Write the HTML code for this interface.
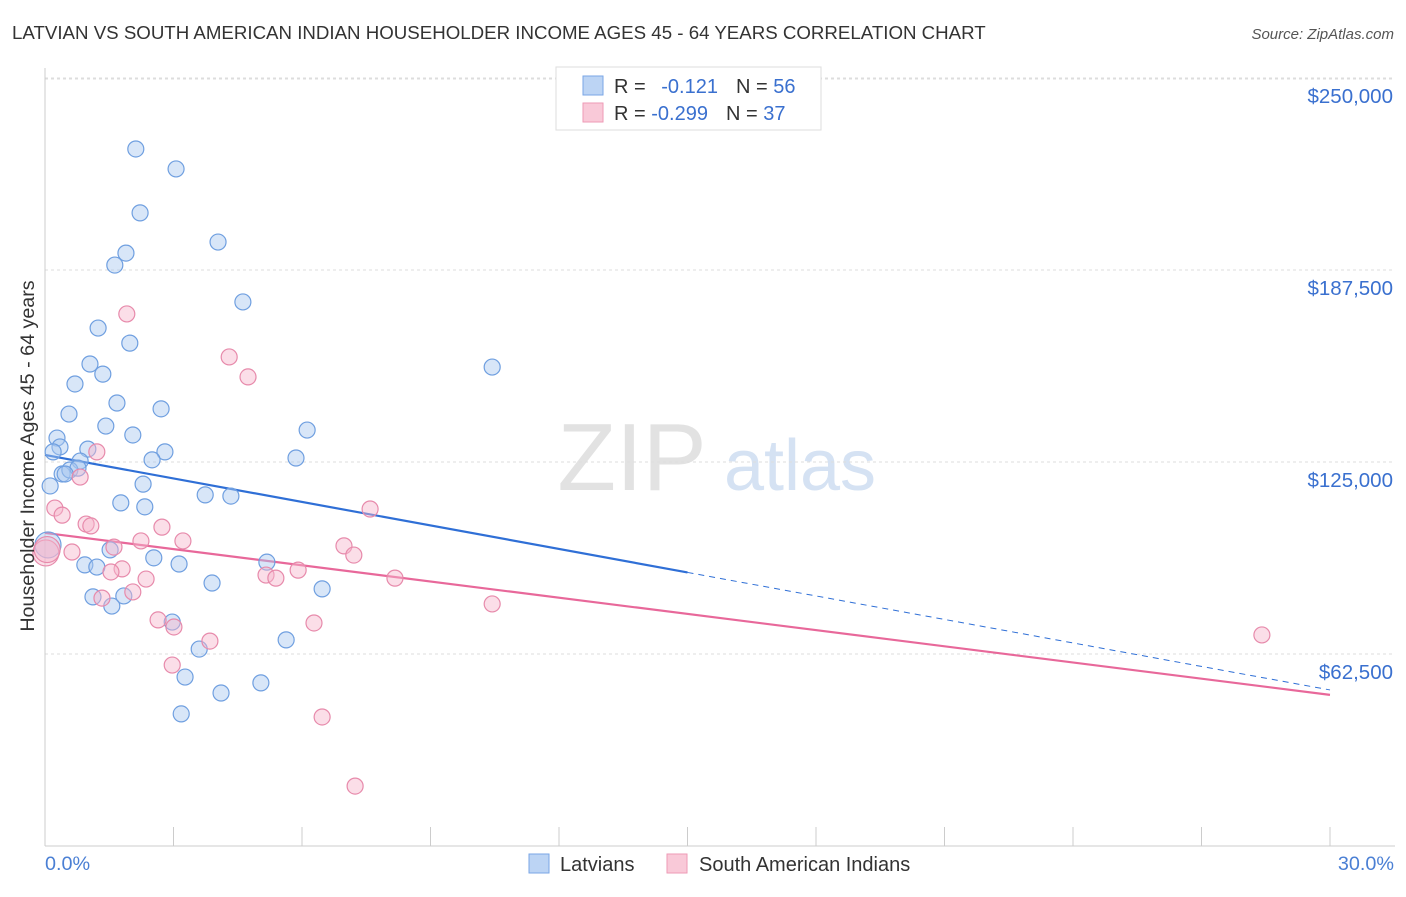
<!DOCTYPE html>
<html><head><meta charset="utf-8"><style>
body{margin:0;background:#fff;font-family:"Liberation Sans",sans-serif;}
svg text{font-family:"Liberation Sans",sans-serif;}
</style></head><body>
<svg id="chart" width="1406" height="892" viewBox="0 0 1406 892">
<text x="12" y="39" font-size="18.7" fill="#333">LATVIAN VS SOUTH AMERICAN INDIAN HOUSEHOLDER INCOME AGES 45 - 64 YEARS CORRELATION CHART</text>
<text x="1394" y="39" font-size="15" fill="#555" text-anchor="end" font-style="italic">Source: ZipAtlas.com</text>
<g>
<text x="632" y="490" font-size="96" fill="#e2e2e2" font-family="Liberation Serif" text-anchor="middle">ZIP</text>
<text x="800" y="490" font-size="72" fill="#d5e2f3" text-anchor="middle">atlas</text>
</g>
<g id="grid"></g>
<g id="axes"></g>
<g id="trends"></g>
<g id="points"></g>
<text transform="translate(34,456) rotate(-90)" font-size="19.7" fill="#333" text-anchor="middle">Householder Income Ages 45 - 64 years</text>
<text x="45" y="870" font-size="19.8" fill="#4a7fd4">0.0%</text>
<text x="1394" y="870" font-size="19.8" fill="#4a7fd4" text-anchor="end">30.0%</text>
<g>
<rect x="556" y="67" width="265" height="63" fill="#fff" stroke="#ddd"/>
<rect x="583" y="76" width="20" height="19" fill="#bcd4f4" stroke="#7aa6e6"/>
<rect x="583" y="103" width="20" height="19" fill="#f9c9d8" stroke="#ee9ab6"/>
<text x="614" y="93" font-size="20" fill="#333">R = <tspan fill="#3a70cf" dx="10">-0.121</tspan><tspan fill="#333" dx="18">N = </tspan><tspan fill="#3a70cf">56</tspan></text>
<text x="614" y="120" font-size="20" fill="#333">R = <tspan fill="#3a70cf">-0.299</tspan><tspan fill="#333" dx="18">N = </tspan><tspan fill="#3a70cf">37</tspan></text>
</g>
<g>
<rect x="529" y="854" width="20" height="19" fill="#bcd4f4" stroke="#7aa6e6"/>
<text x="560" y="871" font-size="20" fill="#333">Latvians</text>
<rect x="667" y="854" width="20" height="19" fill="#f9c9d8" stroke="#ee9ab6"/>
<text x="699" y="871" font-size="20" fill="#333">South American Indians</text>
</g>
</svg>
<script>
const yTicks=[62500,125000,187500,250000];
const yTickLabels=["$62,500","$125,000","$187,500","$250,000"];
const latX=[2.12,3.06,2.22,4.04,1.89,1.63,4.62,1.24,1.98,1.05,1.35,0.70,10.44,1.68,0.56,2.71,1.42,2.05,0.28,6.12,0.35,1.00,2.80,0.19,0.82,2.50,5.86,0.40,0.58,0.77,2.29,0.12,3.74,4.34,1.77,2.33,0.07,1.52,2.54,5.18,3.13,0.93,1.21,3.90,6.47,1.12,1.84,1.56,2.97,3.60,5.63,3.27,5.04,4.11,3.18,0.47];
const latY=[226900,220400,206100,196600,193000,189100,177100,168600,163700,156900,153600,150400,155900,144200,140600,142300,136700,133800,132800,135400,129900,129200,128300,128300,125300,125700,126300,121100,122400,123000,117800,117200,114300,113900,111700,110400,98000,96400,93800,92400,91800,91500,90800,85600,83700,81100,81400,78100,72900,64100,67100,55000,53100,49800,43000,121100];
const saiX=[1.91,4.30,4.74,1.21,0.82,0.23,0.40,0.96,1.07,7.59,2.73,3.22,2.24,1.61,0.63,6.98,7.21,1.80,1.54,5.91,5.16,5.39,8.17,2.36,2.05,1.33,10.44,2.64,3.01,6.28,3.85,2.97,6.47,7.24,28.41,0.02,0.05];
const saiY=[173200,159200,152700,128300,120100,110000,107700,104800,104200,109700,103800,99300,99300,97300,95700,97700,94700,90200,89200,89800,88200,87200,87200,86900,82700,80700,78800,73600,71300,72600,66700,58900,42000,19500,68700,95400,96500];
const latTrend=[127300,50800];
const saiTrend=[101900,49200];
const NS="http://www.w3.org/2000/svg";
const X=v=>45+v/30*1285;
const Y=v=>846-v/62500*192;
function mk(t,a,p){const e=document.createElementNS(NS,t);for(const k in a)e.setAttribute(k,a[k]);p.appendChild(e);return e;}
const grid=document.getElementById('grid'),axes=document.getElementById('axes'),tr=document.getElementById('trends'),pts=document.getElementById('points');
yTicks.forEach((t,i)=>{
 const l=mk('line',{x1:45,x2:1395,y1:Y(t),y2:Y(t),stroke:'#ddd','stroke-dasharray':'3,3'},grid);
 
 
 const tx=mk('text',{x:1393,y:Y(t)+25,'font-size':20.5,fill:'#3a70cf','text-anchor':'end'},grid);
 tx.textContent=yTickLabels[i];
 
 
});
const topL=mk('line',{x1:45,x2:1395,y1:79,y2:79,stroke:'#ddd','stroke-dasharray':'3,3'},grid);


const ya=mk('line',{x1:45,x2:45,y1:68,y2:846,stroke:'#ccc'},axes);


const xa=mk('line',{x1:45,x2:1395,y1:846,y2:846,stroke:'#ccc'},axes);


for(let i=0;i<=10;i++){
 const t=mk('line',{x1:X(i*3),x2:X(i*3),y1:827,y2:846,stroke:'#ccc'},axes);
 
 
}
function trend(vals,col,solidEnd,name){
 const y=x=>vals[0]+(vals[1]-vals[0])*x/30;
 const a=mk('line',{x1:X(0),y1:Y(y(0)),x2:X(solidEnd),y2:Y(y(solidEnd)),stroke:col,'stroke-width':2.2},tr);
 
 
 if(solidEnd<30){
  const b=mk('line',{x1:X(solidEnd),y1:Y(y(solidEnd)),x2:X(30),y2:Y(y(30)),stroke:col,'stroke-width':1,'stroke-dasharray':'6,5'},tr);
  
  
 }
}
function dots(xs,ys,fill,stroke,name){
 xs.forEach((x,i)=>{
  const big=x<0.1;
  const c=mk('circle',{cx:X(x),cy:Y(ys[i]),r:big?13:8,fill:fill,'fill-opacity':0.45,stroke:stroke,'stroke-width':1.2},pts);
  
  
 });
}
dots(latX,latY,'#a9c8f0','#6f9fe0','latvian-point');
dots(saiX,saiY,'#f6b6cb','#e78aab','south-american-indian-point');
trend(latTrend,'#2f6fd6',15,'latvian-trendline');
trend(saiTrend,'#e8689a',30,'sai-trendline');
</script>
</body></html>
